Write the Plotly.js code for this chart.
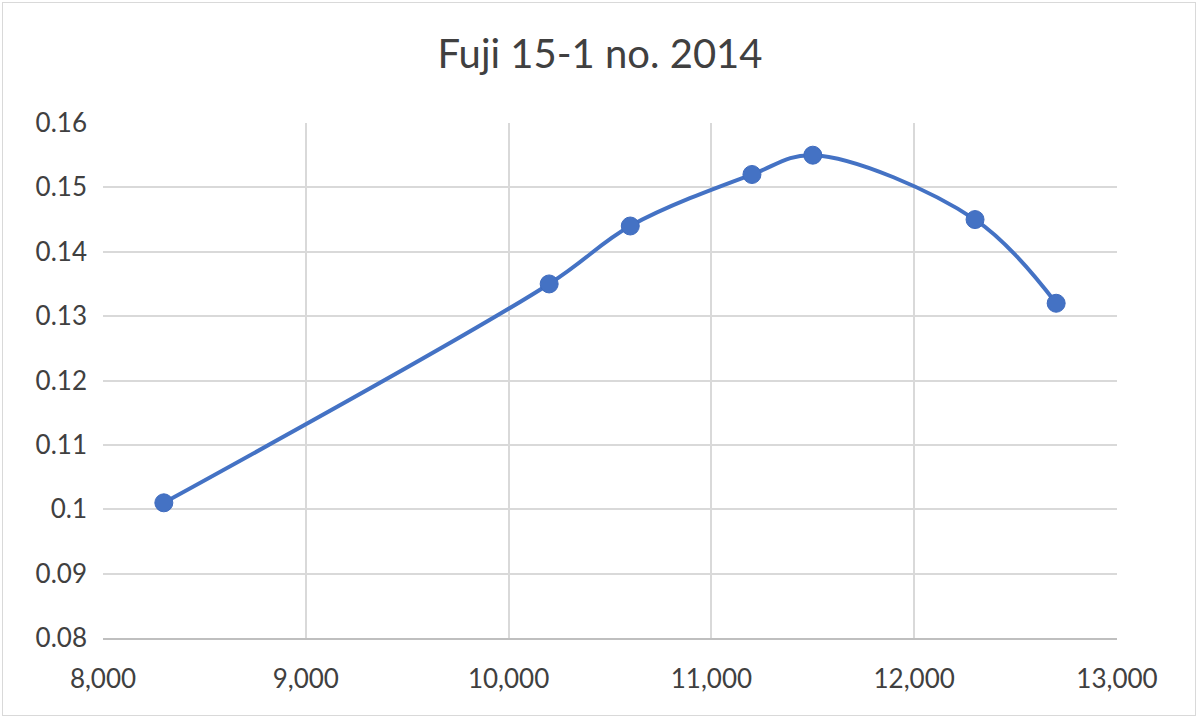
<!DOCTYPE html>
<html>
<head>
<meta charset="utf-8">
<script src="https://cdn.plot.ly/plotly-3.0.1.min.js"></script>
<style>
html,body{margin:0;padding:0;background:#fff;}
#wrap{position:absolute;left:2px;top:2px;width:1194px;height:714px;border:1px solid #d9d9d9;box-sizing:border-box;}
#chart{position:absolute;left:0;top:0;width:1200px;height:720px;}
</style>
</head>
<body>
<div id="wrap"></div>
<div id="chart"></div>
<script>
const titleText = "Fuji 15-1 no. 2014";
const xValues = [8300, 10200, 10600, 11200, 11500, 12300, 12700];
const yValues = [0.101, 0.135, 0.144, 0.152, 0.155, 0.145, 0.132];
const xTicks = [8000, 9000, 10000, 11000, 12000, 13000];
const xTickLabels = ["8,000", "9,000", "10,000", "11,000", "12,000", "13,000"];
const yTicks = [0.08, 0.09, 0.1, 0.11, 0.12, 0.13, 0.14, 0.15, 0.16];
const yTickLabels = ["0.08", "0.09", "0.1", "0.11", "0.12", "0.13", "0.14", "0.15", "0.16"];

const trace = {
  x: xValues, y: yValues, type: 'scatter', mode: 'lines+markers',
  line: {color: '#4472C4', width: 4, shape: 'spline', smoothing: 1},
  marker: {color: '#4472C4', size: 18, line: {color: '#3F6BBE', width: 1}},
  hoverinfo: 'skip'
};
const layout = {
  width: 1200, height: 720,
  margin: {l: 103, r: 83, t: 123, b: 82},
  paper_bgcolor: 'rgba(0,0,0,0)', plot_bgcolor: 'rgba(0,0,0,0)',
  font: {family: 'Lato, "Open Sans", sans-serif', color: '#404040'},
  title: {text: titleText, x: 0.5, xanchor: 'center', y: 0.925, yanchor: 'middle',
          font: {size: 40, color: '#404040', family: 'Lato, "Open Sans", sans-serif'}},
  showlegend: false,
  xaxis: {range: [8000, 13000], tickvals: xTicks, ticktext: xTickLabels,
          showgrid: true, gridcolor: '#d9d9d9', gridwidth: 2,
          zeroline: false, showline: true, linecolor: '#bfbfbf', linewidth: 2,
          ticks: '', tickfont: {size: 26, color: '#404040'}, ticklabelstandoff: 17},
  yaxis: {range: [0.08, 0.16], tickvals: yTicks, ticktext: yTickLabels,
          showgrid: true, gridcolor: '#d9d9d9', gridwidth: 2,
          zeroline: false, showline: false,
          ticks: '', tickfont: {size: 26, color: '#404040'}, ticklabelstandoff: 15}
};
Plotly.newPlot('chart', [trace], layout, {staticPlot: true, displayModeBar: false});
</script>
</body>
</html>
